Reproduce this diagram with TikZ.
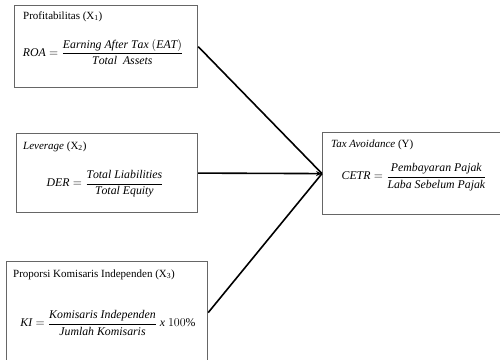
\documentclass[tikz,border=0pt]{standalone}
\usepackage{amsmath}
\usepackage{fontspec}
\setmainfont{Liberation Serif}
\usetikzlibrary{arrows.meta}

\begin{document}
\begin{tikzpicture}[x=1pt,y=-1pt,
		varbox/.style={draw=black!60,line width=1.2pt,inner sep=0pt,anchor=north west},
		title/.style={anchor=base west,inner sep=0pt,font=\fontsize{11}{13}\selectfont},
		formula/.style={inner sep=0pt,font=\fontsize{11.8}{14}\selectfont},
		link/.style={line width=1.6pt,color=black}]
		\useasboundingbox (0,0) rectangle (500,359);
		
		\node[varbox,minimum width=183pt,minimum height=82pt] (prof) at (14,5) {};
		\node[varbox,minimum width=181pt,minimum height=79pt] (lev) at (16,133) {};
		\node[varbox,minimum width=201pt,minimum height=102pt] (kom) at (6,261) {};
		\node[varbox,minimum width=179pt,minimum height=82pt] (tax) at (322,132) {};
		
		\node[title] (proftitle) at (23,19) {Profitabilitas (X\textsubscript{1})};
		\node[title] (levtitle) at (23,149) {\textit{Leverage} (X\textsubscript{2})};
		\node[title] (komtitle) at (13,277) {Proporsi Komisaris Independen (X\textsubscript{3})};
		\node[title] (taxtitle) at (331,147) {\textit{Tax Avoidance} (Y)};
		
		\node[formula] (roa) at (103,52) {$\mathit{ROA}=\dfrac{\mathit{Earning\ After\ Tax\ (EAT)}}{\mathit{Total\ \ Assets}}$};
		\node[formula] (der) at (105,184) {$\mathit{DER}=\dfrac{\mathit{Total\ Liabilities}}{\mathit{Total\ Equity}}$};
		\node[formula] (ki) at (108,323) {$\mathit{KI}=\dfrac{\mathit{Komisaris\ Independen}}{\mathit{Jumlah\ Komisaris}}\ \mathit{x}\ 100\%$};
		\node[formula] (cetr) at (414,177) {$\mathit{CETR}=\dfrac{\mathit{Pembayaran\ Pajak}}{\mathit{Laba\ Sebelum\ Pajak}}$};
		
		\draw[link] (prof.east) -- (tax.west);
		\draw[link] (kom.east) -- (tax.west);
		\draw[link,-{Stealth[length=6pt,width=5pt]}] (lev.east) -- (tax.west);
\end{tikzpicture}
\end{document}
